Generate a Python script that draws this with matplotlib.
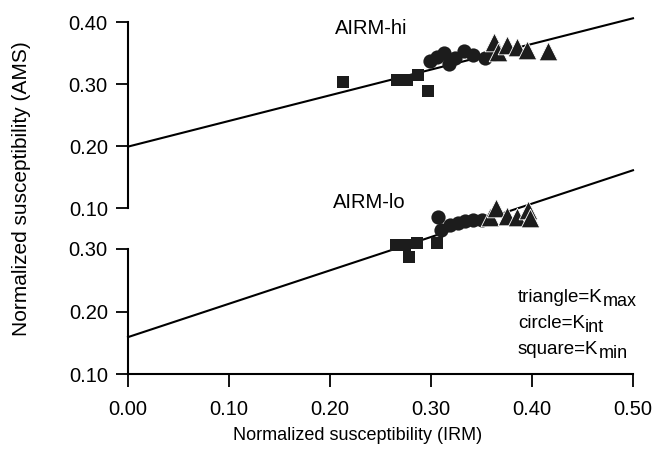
#!/usr/bin/env python

import matplotlib
matplotlib.use('Agg')
import matplotlib.pyplot as plt

# AIRM-hi (upper panel)
hi_sq_x = [0.213, 0.266, 0.276, 0.287, 0.297]
hi_sq_y = [0.304, 0.306, 0.306, 0.315, 0.288]
hi_ci_x = [0.299, 0.306, 0.313, 0.318, 0.324, 0.333, 0.342, 0.353, 0.362]
hi_ci_y = [0.337, 0.343, 0.350, 0.332, 0.342, 0.353, 0.347, 0.342, 0.348]
hi_tr_x = [0.362, 0.366, 0.375, 0.385, 0.395, 0.416]
hi_tr_y = [0.367, 0.352, 0.363, 0.360, 0.355, 0.353]
hi_fit = [0.199, 0.414]   # intercept, slope

# AIRM-lo (lower panel)
lo_sq_x = [0.265, 0.274, 0.278, 0.286, 0.306]
lo_sq_y = [0.306, 0.307, 0.288, 0.309, 0.309]
lo_ci_x = [0.307, 0.310, 0.319, 0.327, 0.334, 0.342, 0.350]
lo_ci_y = [0.352, 0.330, 0.338, 0.342, 0.345, 0.346, 0.346]
lo_tr_x = [0.358, 0.364, 0.375, 0.385, 0.396, 0.398]
lo_tr_y = [0.352, 0.366, 0.353, 0.352, 0.362, 0.350]
lo_fit = [0.159, 0.534]

x_ticks = [0.0, 0.1, 0.2, 0.3, 0.4, 0.5]
hi_yticks = [0.1, 0.2, 0.3, 0.4]
lo_yticks = [0.1, 0.2, 0.3]

legend_names = ['triangle=K', 'circle=K', 'square=K']
legend_subs = ['max', 'int', 'min']

W, H = 655, 450
INK = '#1c1c1c'


def px(x, y):
    # pixel position -> figure fraction
    return x / W, 1 - y / H


def style_axis(ax, yticks):
    for s in ['top', 'right']:
        ax.spines[s].set_visible(False)
    ax.spines['left'].set_bounds(yticks[0], yticks[-1])
    ax.spines['left'].set_linewidth(1.5)
    ax.set_yticks(yticks)
    ax.set_yticklabels(['%.2f' % v for v in yticks], fontsize=14.5)
    ax.tick_params(axis='y', direction='out', length=8.5, width=1.3, pad=6)
    ax.patch.set_alpha(0)


def draw_panel(ax, sq_x, sq_y, ci_x, ci_y, tr_x, tr_y, fit):
    ends = [x_ticks[0], x_ticks[-1]]
    ax.plot(ends, [fit[0] + fit[1] * x for x in ends],
            color='black', lw=1.5, zorder=2, clip_on=False)
    ax.scatter(sq_x, sq_y, marker='s', s=78, color=INK, zorder=3,
               clip_on=False, linewidths=0)
    ax.scatter(ci_x, ci_y, marker='o', s=105, color=INK, zorder=3,
               clip_on=False, linewidths=0)
    ax.scatter(tr_x, tr_y, marker='^', s=180, color=INK, zorder=3,
               clip_on=False, edgecolors='white', linewidths=0.6)


def main():
    plt.rcParams['font.family'] = ['Liberation Sans', 'DejaVu Sans']

    fig = plt.figure(figsize=(W / 100, H / 100), dpi=100)

    # lower panel: 0.10 at y=374 px, 62.5 px per 0.1
    x0, y0 = px(128, 374)
    x1, _ = px(633, 0)
    _, ytop = px(0, 5)
    ax_lo = fig.add_axes([x0, y0, x1 - x0, ytop - y0])
    ax_lo.set_xlim(0, 0.5)
    ax_lo.set_ylim(0.10, 0.10 + (374 - 5) / 625)
    style_axis(ax_lo, lo_yticks)
    ax_lo.spines['bottom'].set_linewidth(1.5)
    ax_lo.set_xticks(x_ticks)
    ax_lo.set_xticklabels(['%.2f' % v for v in x_ticks], fontsize=14.5)
    ax_lo.tick_params(axis='x', direction='out', length=9, width=1.3, pad=10)

    # upper panel: 0.10 at y=208 px, 62 px per 0.1
    _, yb = px(0, 208)
    ax_hi = fig.add_axes([x0, yb, x1 - x0, ytop - yb])
    ax_hi.set_xlim(0, 0.5)
    ax_hi.set_ylim(0.10, 0.10 + (208 - 5) / 620)
    style_axis(ax_hi, hi_yticks)
    ax_hi.spines['bottom'].set_visible(False)
    ax_hi.set_xticks([])

    draw_panel(ax_lo, lo_sq_x, lo_sq_y, lo_ci_x, lo_ci_y, lo_tr_x, lo_tr_y, lo_fit)
    draw_panel(ax_hi, hi_sq_x, hi_sq_y, hi_ci_x, hi_ci_y, hi_tr_x, hi_tr_y, hi_fit)

    ax_hi.text(0.205, 0.390, 'AIRM-hi', fontsize=14.5, va='center', ha='left')
    ax_lo.text(0.203, 0.3736, 'AIRM-lo', fontsize=14.5, va='center', ha='left')

    # K subscripts drawn as separate text so they stay near full size
    for i, (name, sub) in enumerate(zip(legend_names, legend_subs)):
        t = fig.text(*px(518, 297 + 26.5 * i), name, fontsize=13.5,
                     ha='left', va='center')
        ax_lo.annotate(sub, xy=(1.0, 0.0), xycoords=t, fontsize=13,
                       ha='left', va='baseline')

    fig.text(*px(358, 435), 'Normalized susceptibility (IRM)',
             fontsize=13, ha='center', va='center')
    fig.text(*px(22, 189), 'Normalized susceptibility (AMS)',
             fontsize=15, ha='center', va='center', rotation=90)

    fig.savefig('out.png', dpi=100)


if __name__ == '__main__':
    main()
